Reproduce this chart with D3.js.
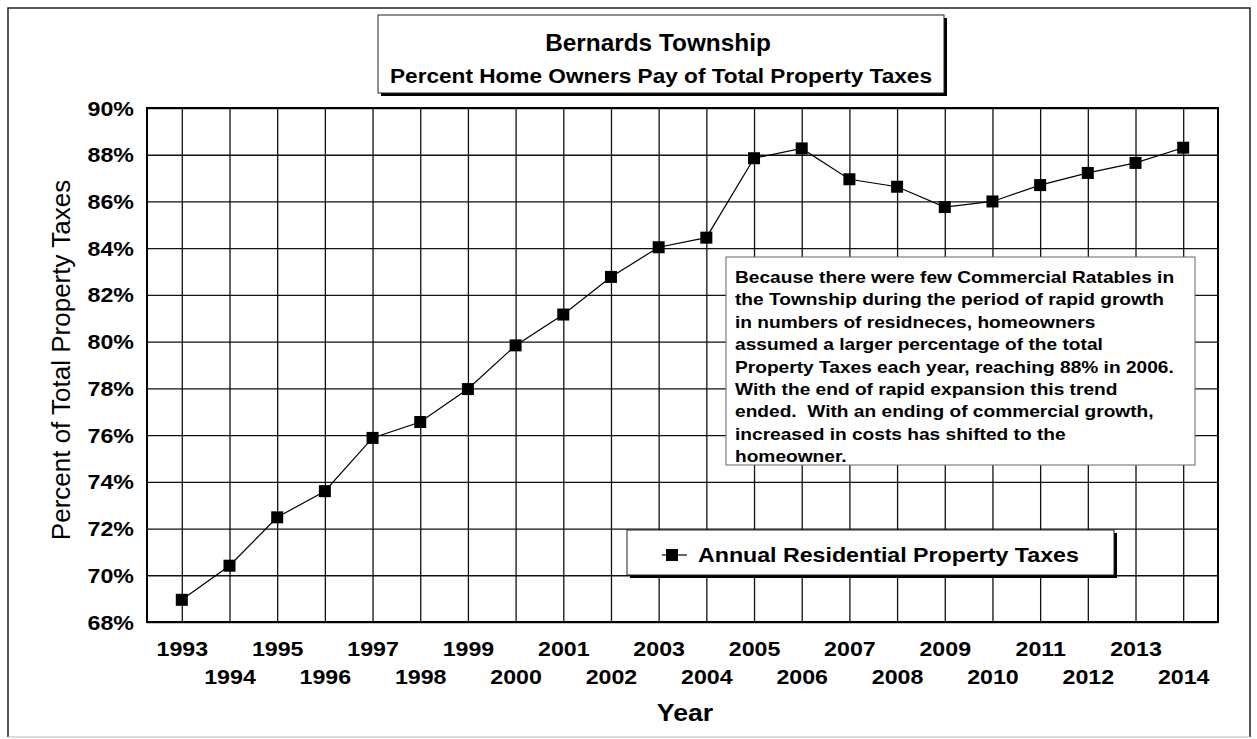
<!DOCTYPE html>
<html>
<head>
<meta charset="utf-8">
<script src="https://cdn.jsdelivr.net/npm/d3@7"></script>
<style>
body { margin: 0; background: #fff; }
svg { display: block; font-family: "Liberation Sans", Arial, sans-serif; }
</style>
</head>
<body>
<svg id="chart" width="1257" height="739"></svg>
<script>
var years = [1993, 1994, 1995, 1996, 1997, 1998, 1999, 2000, 2001, 2002, 2003,
             2004, 2005, 2006, 2007, 2008, 2009, 2010, 2011, 2012, 2013, 2014];
var residentialPct = [68.95, 70.41, 72.48, 73.6, 75.88, 76.56, 77.97, 79.84, 81.16, 82.77, 84.04,
                      84.45, 87.85, 88.27, 86.95, 86.63, 85.76, 86.0, 86.7, 87.22, 87.65, 88.3];
var yTicks = [68, 70, 72, 74, 76, 78, 80, 82, 84, 86, 88, 90];

var titleText = "Bernards Township";
var subtitleText = "Percent Home Owners Pay of Total Property Taxes";
var yAxisLabel = "Percent of Total Property Taxes";
var xAxisLabel = "Year";
var legendLabel = "Annual Residential Property Taxes";
var noteLines = [
    "Because there were few Commercial Ratables in",
    "the Township during the period of rapid growth",
    "in numbers of residneces, homeowners",
    "assumed a larger percentage of the total",
    "Property Taxes each year, reaching 88% in 2006.",
    "With the end of rapid expansion this trend",
    "ended.  With an ending of commercial growth,",
    "increased in costs has shifted to the",
    "homeowner."
];

var gStretch = 1.16;   // the scanned original is a bit wider than tall
var plot = {left: 147, top: 108, right: 1218, bottom: 622};
var gMark = 12;

var svg = d3.select("#chart");

function wideText(sel, x, y, str, size, anchor, stretch) {
    var s = stretch || gStretch;
    return sel.append("text")
        .attr("transform", "translate(" + x + "," + y + ") scale(" + s + ",1)")
        .attr("text-anchor", anchor)
        .attr("font-size", size + "px")
        .attr("font-weight", "bold")
        .attr("fill", "#000")
        .style("white-space", "pre")
        .text(str);
}

// outer frame
svg.append("path")
    .attr("d", "M8,737 L8,8 L1250,8 L1250,737")
    .attr("fill", "none")
    .attr("stroke", "#222")
    .attr("stroke-width", 1.5);
svg.append("line")
    .attr("x1", 8).attr("x2", 1250).attr("y1", 737).attr("y2", 737)
    .attr("stroke", "#bbb").attr("stroke-width", 1);

var x = d3.scalePoint()
    .domain(years)
    .range([plot.left, plot.right])
    .padding(0.73);

var y = d3.scaleLinear()
    .domain([68, 90])
    .range([plot.bottom, plot.top]);

// y gridlines + labels
var yAxis = d3.axisLeft(y)
    .tickValues(yTicks)
    .tickSize(-(plot.right - plot.left))
    .tickFormat(function(d) { return d + "%"; });

var gy = svg.append("g")
    .attr("transform", "translate(" + plot.left + ",0)")
    .call(yAxis);
gy.select(".domain").remove();
gy.selectAll(".tick line").attr("stroke", "#111").attr("stroke-width", 1.3);
gy.selectAll(".tick text")
    .attr("x", null).attr("dy", null)
    .attr("transform", "translate(-13,7) scale(" + gStretch + ",1)")
    .attr("font-size", "20px")
    .attr("font-weight", "bold")
    .attr("font-family", "'Liberation Sans', Arial, sans-serif")
    .attr("fill", "#000");

// x gridlines + staggered year labels
var xAxis = d3.axisBottom(x)
    .tickSize(-(plot.bottom - plot.top))
    .tickPadding(0);

var gx = svg.append("g")
    .attr("transform", "translate(0," + plot.bottom + ")")
    .call(xAxis);
gx.select(".domain").remove();
gx.selectAll(".tick line").attr("stroke", "#111").attr("stroke-width", 1.3);
gx.selectAll(".tick text")
    .attr("y", null).attr("dy", null)
    .attr("transform", function(d, i) {
        var yy = (i % 2 == 0) ? 34 : 62;
        return "translate(0," + yy + ") scale(" + gStretch + ",1)";
    })
    .attr("font-size", "20px")
    .attr("font-weight", "bold")
    .attr("font-family", "'Liberation Sans', Arial, sans-serif")
    .attr("fill", "#000");

// plot border
svg.append("rect")
    .attr("x", plot.left).attr("y", plot.top)
    .attr("width", plot.right - plot.left)
    .attr("height", plot.bottom - plot.top)
    .attr("fill", "none")
    .attr("stroke", "#000")
    .attr("stroke-width", 2);

// series
var pts = years.map(function(yr, i) { return {year: yr, v: residentialPct[i]}; });

var line = d3.line()
    .x(function(d) { return x(d.year); })
    .y(function(d) { return y(d.v); });

svg.append("path")
    .datum(pts)
    .attr("d", line)
    .attr("fill", "none")
    .attr("stroke", "#000")
    .attr("stroke-width", 1.2);

svg.selectAll("rect.mark")
    .data(pts)
    .enter().append("rect")
    .attr("class", "mark")
    .attr("x", function(d) { return x(d.year) - gMark / 2; })
    .attr("y", function(d) { return y(d.v) - gMark / 2; })
    .attr("width", gMark)
    .attr("height", gMark)
    .attr("fill", "#000");

// title box
svg.append("rect")
    .attr("x", 381).attr("y", 18).attr("width", 566).attr("height", 78)
    .attr("fill", "#000");
svg.append("rect")
    .attr("x", 378).attr("y", 15).attr("width", 566).attr("height", 78)
    .attr("fill", "#fff").attr("stroke", "#222").attr("stroke-width", 1);
wideText(svg, 658, 51, titleText, 23, "middle", 1.06);
wideText(svg, 661, 83, subtitleText, 19.5, "middle");

// note box
svg.append("rect")
    .attr("x", 726).attr("y", 257).attr("width", 469).attr("height", 208)
    .attr("fill", "#fff").attr("stroke", "#666").attr("stroke-width", 1);
noteLines.forEach(function(t, i) {
    wideText(svg, 735, 283 + i * 22.4, t, 16.5, "start");
});

// legend
svg.append("rect")
    .attr("x", 630).attr("y", 533).attr("width", 487).attr("height", 45)
    .attr("fill", "#000");
svg.append("rect")
    .attr("x", 627).attr("y", 530).attr("width", 487).attr("height", 45)
    .attr("fill", "#fff").attr("stroke", "#222").attr("stroke-width", 1);
svg.append("line")
    .attr("x1", 662).attr("x2", 687).attr("y1", 555).attr("y2", 555)
    .attr("stroke", "#000").attr("stroke-width", 1.2);
svg.append("rect")
    .attr("x", 672 - gMark / 2).attr("y", 555 - gMark / 2)
    .attr("width", gMark).attr("height", gMark)
    .attr("fill", "#000");
wideText(svg, 698, 562, legendLabel, 20, "start");

// axis titles
svg.append("text")
    .attr("transform", "translate(70,360) rotate(-90)")
    .attr("text-anchor", "middle")
    .attr("font-size", "26px")
    .attr("fill", "#000")
    .text(yAxisLabel);
wideText(svg, 685, 721, xAxisLabel, 23, "middle");
</script>
</body>
</html>
